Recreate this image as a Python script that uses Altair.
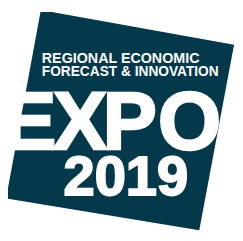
import altair as alt

# Logo panel corners (pixel coordinates of the picture)
shape_x = [42, 242, 206, 6]
shape_y = [6, 42, 234, 201]

# Texts
subtitle_lines = ["REGIONAL ECONOMIC", "FORECAST & INNOVATION"]
title_letters = ["E", "X", "P", "O"]
year_text = "2019"

DARK = "#03394a"
FONT = "Liberation Sans"

ring = [[x, y] for x, y in zip(shape_x, shape_y)]
ring.append(ring[0])
feature = {
    "type": "Feature",
    "properties": {},
    "geometry": {"type": "Polygon", "coordinates": [ring]},
}

panel = alt.Chart(alt.Data(values=[feature])).mark_geoshape(
    fill=DARK, strokeWidth=0
).project(type="identity", scale=1, translate=[-8, -8])

def text_layer(txt, x, y, size, align, sw=0):
    kw = dict(font=FONT, fontWeight="bold", fontSize=size, color="white",
              align=align, baseline="alphabetic")
    if sw:
        kw.update(stroke="white", strokeWidth=sw)
    return alt.Chart(alt.Data(values=[{"t": txt}])).mark_text(**kw).encode(
        text="t:N", x=alt.value(x), y=alt.value(y))

line1 = text_layer(subtitle_lines[0], 35, 53, 14.8, "left")
line2 = text_layer(subtitle_lines[1], 35, 66, 14.2, "left")

letter_x = [22, 74.5, 126, 188]
letters = [text_layer(t, lx, 142, 84, "center", sw=2.5)
           for t, lx in zip(title_letters, letter_x)]
year = text_layer(year_text, 122, 190, 58, "center", sw=2)

chart = alt.layer(panel, line1, line2, *letters, year).properties(
    width=235, height=233, padding=0,
    autosize=alt.AutoSizeParams(type="none"),
    background="white",
).configure_view(stroke=None)

chart.save("out.html", embed_options={"renderer": "svg", "actions": False})
